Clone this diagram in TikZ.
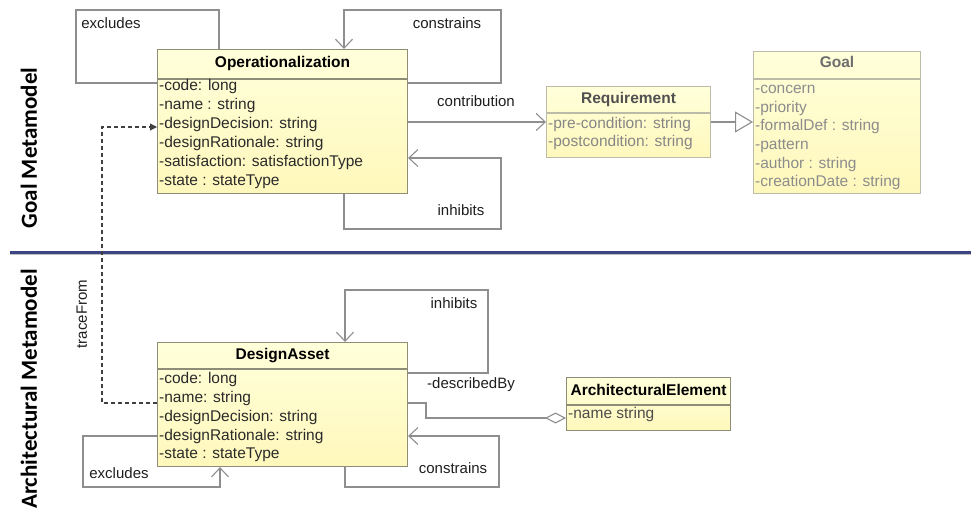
\documentclass[tikz,border=0pt]{standalone}
\usepackage{fontspec}
\setmainfont{Liberation Sans}
\newfontfamily\sidefont{Carlito}
\usetikzlibrary{arrows.meta,calc}

\definecolor{boxfillA}{HTML}{FFFFDA}
\definecolor{boxfillB}{HTML}{FFF8BC}
\definecolor{boxedge}{HTML}{8E8E78}
\definecolor{boxedgeL}{HTML}{BBBBA8}
\definecolor{linkgray}{HTML}{8E8E8E}
\definecolor{navy}{HTML}{3C4484}
\definecolor{attrdark}{HTML}{2A2A2A}
\definecolor{reqtitle}{HTML}{505050}
\definecolor{reqattr}{HTML}{868686}
\definecolor{goaltitle}{HTML}{6E6E6E}
\definecolor{goalattr}{HTML}{8C8C8C}
\definecolor{labeltext}{HTML}{1E1E1E}

\begin{document}
\begin{tikzpicture}[x=1pt,y=-1pt,
  cls/.style={draw=boxedge, line width=1.1pt, top color=boxfillA, bottom color=boxfillB,
              anchor=north west, inner sep=0pt},
  clsL/.style={cls, draw=boxedgeL},
  sep/.style={draw=boxedge, line width=1.1pt},
  sepL/.style={draw=boxedgeL, line width=1.1pt},
  title/.style={font=\bfseries\fontsize{15.5}{18}\selectfont, text=black, inner sep=0pt,
                text height=11pt, text depth=3pt},
  attr/.style={font=\fontsize{15.5}{18}\selectfont, text=attrdark, inner sep=0pt, anchor=west,
               text height=10.5pt, text depth=3pt},
  lbl/.style={font=\fontsize{15}{18}\selectfont, text=labeltext, inner sep=0pt,
              text height=10.5pt, text depth=3pt},
  side/.style={font=\sidefont\bfseries\fontsize{23}{26}\selectfont, rotate=90, inner sep=0pt},
  link/.style={draw=linkgray, line width=1.1pt, line join=miter},
  assoc/.style={link, -{Straight Barb[length=9pt,width=17pt,line width=1.1pt]}},
  gen/.style={link, -{Triangle[open,length=18pt,width=21pt,line width=1.1pt,fill=white]}},
  agg/.style={link, -{Diamond[open,length=21pt,width=11pt,line width=1.1pt,fill=white]}},
  trace/.style={draw=black!75, line width=1.1pt, dash pattern=on 4pt off 3pt,
                -{Triangle[length=7pt,width=7pt]}}
]
\useasboundingbox (0,0) rectangle (971,508);

% section divider
\coordinate (sepW) at (10,252);
\coordinate (sepE) at (971,252);
\draw[black!25, line width=3pt] ([yshift=-1.5pt]sepW) -- ([yshift=-1.5pt]sepE);
\draw[navy, line width=3pt] (sepW) -- (sepE);

% side titles
\node[side] (goalSide) at (29,148) {Goal Metamodel};
\node[side] (archSide) at (29,389) {Architectural Metamodel};

% ---- Operationalization
\node[cls, minimum width=250pt, minimum height=144pt] (op) at (157,49) {};
\draw[sep] (op.west |- 0,79) -- (op.east |- 0,79);
\node[title] (opT) at (op.north |- 0,64) {Operationalization};
\foreach \t [count=\i from 0] in {-code: long, -name : string, -designDecision: string,
    -designRationale: string, -satisfaction: satisfactionType, -state : stateType}
  \node[attr] (op-\i) at (159,87+19*\i) {\t};

% ---- Requirement
\node[clsL, minimum width=164pt, minimum height=71pt] (req) at (546,86) {};
\draw[sepL] (req.west |- 0,113) -- (req.east |- 0,113);
\node[title, text=reqtitle] (reqT) at (req.north |- 0,100) {Requirement};
\foreach \t [count=\i from 0] in {-pre-condition: string, -postcondition: string}
  \node[attr, text=reqattr] (req-\i) at (548,125+18*\i) {\t};

% ---- Goal
\node[clsL, minimum width=167pt, minimum height=142pt] (goal) at (753,51) {};
\draw[sepL] (goal.west |- 0,79) -- (goal.east |- 0,79);
\node[title, text=goaltitle] (goalT) at (goal.north |- 0,64) {Goal};
\foreach \t [count=\i from 0] in {-concern, -priority, -formalDef : string, -pattern,
    -author : string, -creationDate : string}
  \node[attr, text=goalattr] (goal-\i) at (755,90+18.6*\i) {\t};

% ---- DesignAsset
\node[cls, minimum width=250pt, minimum height=124pt] (da) at (157,342) {};
\draw[sep] (da.west |- 0,369) -- (da.east |- 0,369);
\node[title] (daT) at (da.north |- 0,355) {DesignAsset};
\foreach \t [count=\i from 0] in {-code: long, -name: string, -designDecision: string,
    -designRationale: string, -state : stateType}
  \node[attr] (da-\i) at (159,380+18.75*\i) {\t};

% ---- ArchitecturalElement
\node[cls, minimum width=164pt, minimum height=53pt] (ae) at (566,377) {};
\draw[sep] (ae.west |- 0,405) -- (ae.east |- 0,405);
\node[title] (aeT) at (ae.north |- 0,391) {ArchitecturalElement};
\node[attr, text=black!70] (ae-0) at (568,415) {-name string};

% ---- connectors of Operationalization
\draw[link]  (op.west |- 0,83) -| (76,10) -| (219,0 |- op.north);
\draw[assoc] (op.east |- 0,83) -| (501,10) -| (344,0 |- op.north);
\draw[assoc] (344,0 |- op.south) |- (501,229) |- (op.east |- 0,158);
\draw[assoc] (op.east |- 0,122) -- (req.west |- 0,122);
\draw[gen]   (req.east |- 0,122) -- (goal.west |- 0,122);

% ---- trace link between the two metamodels
\draw[trace] (da.west |- 0,403) -| (102,127) -- (op.west |- 0,127);

% ---- connectors of DesignAsset
\draw[assoc] (da.east |- 0,373) -| (488,290) -| (345,0 |- da.north);
\draw[agg]   (da.east |- 0,403) -| (426,418) -- (ae.west |- 0,418);
\draw[assoc] (345,0 |- da.south) |- (499,487) |- (da.east |- 0,436);
\draw[assoc] (da.west |- 0,436) -| (83,487) -| (220,0 |- da.south);

% ---- association labels
\node[lbl] (lExclTop) at (111,25) {excludes};
\node[lbl] (lConsTop) at (447,25) {constrains};
\node[lbl] (lContrib) at (476,103) {contribution};
\node[lbl] (lInhTop) at (461,212) {inhibits};
\node[lbl, rotate=90] (lTrace) at (83,314) {traceFrom};
\node[lbl] (lInhDA) at (454,305) {inhibits};
\node[lbl] (lDescr) at (471,385) {-describedBy};
\node[lbl] (lConsDA) at (453,470) {constrains};
\node[lbl] (lExclDA) at (119,475) {excludes};
\end{tikzpicture}
\end{document}
